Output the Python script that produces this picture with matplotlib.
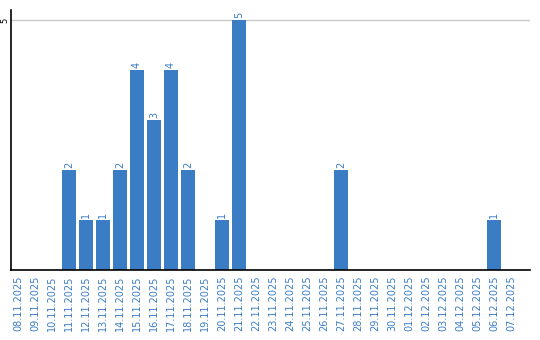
import matplotlib
matplotlib.use('Agg')
import matplotlib.pyplot as plt
import numpy as np

dates = ['08.11.2025', '09.11.2025', '10.11.2025', '11.11.2025', '12.11.2025',
         '13.11.2025', '14.11.2025', '15.11.2025', '16.11.2025', '17.11.2025',
         '18.11.2025', '19.11.2025', '20.11.2025', '21.11.2025', '22.11.2025',
         '23.11.2025', '24.11.2025', '25.11.2025', '26.11.2025', '27.11.2025',
         '28.11.2025', '29.11.2025', '30.11.2025', '01.12.2025', '02.12.2025',
         '03.12.2025', '04.12.2025', '05.12.2025', '06.12.2025', '07.12.2025']
counts = [0, 0, 0, 2, 1, 1, 2, 4, 3, 4, 2, 0, 1, 5, 0,
          0, 0, 0, 0, 2, 0, 0, 0, 0, 0, 0, 0, 0, 1, 0]

blue = '#3b7dc4'

fig = plt.figure(figsize=(5.4, 3.4), dpi=100)
ax = fig.add_axes([11/540, 70/340, 519/540, 260/340])

x = np.arange(len(dates))
ax.bar(x, counts, width=0.82, color=blue, zorder=2)

# value labels above bars
for xi, v in zip(x, counts):
    if v > 0:
        ax.text(xi, v + 0.04, str(v), rotation=90, ha='center', va='bottom',
                color=blue, fontsize=7)

ax.set_xlim(-0.41, 30.12)
ax.set_ylim(0, 5.2)
ax.set_yticks([5])
ax.set_yticklabels(['5'], rotation=90, va='center', fontsize=6)
ax.yaxis.grid(True, color='#c8c8c8', linewidth=1, zorder=0)
ax.tick_params(axis='y', length=0, pad=1.5)

ax.set_xticks(x)
ax.set_xticklabels(dates, rotation=90, fontsize=7, color=blue)
ax.tick_params(axis='x', length=0, pad=4)

ax.spines['top'].set_visible(False)
ax.spines['right'].set_visible(False)
ax.spines['left'].set_linewidth(1.2)
ax.spines['bottom'].set_linewidth(1.2)

fig.savefig('out.png', dpi=100)
